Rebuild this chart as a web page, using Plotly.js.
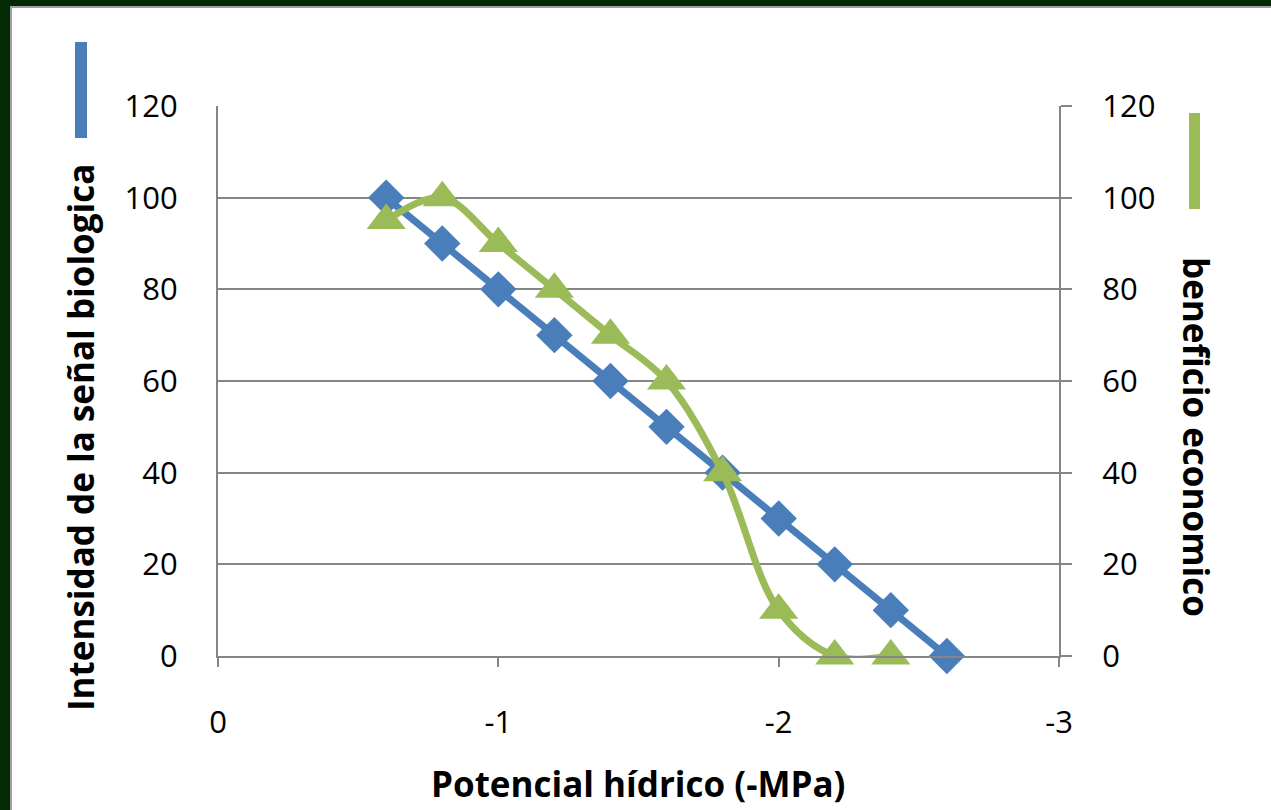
<!DOCTYPE html>
<html><head><meta charset="utf-8">
<script src="https://cdn.plot.ly/plotly-3.0.1.min.js"></script>
<style>html,body{margin:0;padding:0;background:#fff;}#chart{width:1271px;height:810px;}</style>
</head><body><div id="chart"></div>
<script>
const xBlue = [-0.6, -0.8, -1.0, -1.2, -1.4, -1.6, -1.8, -2.0, -2.2, -2.4, -2.6];
const yBlue = [100, 90, 80, 70, 60, 50, 40, 30, 20, 10, 0];
const xGreen = [-0.6, -0.8, -1.0, -1.2, -1.4, -1.6, -1.8, -2.0, -2.2, -2.4];
const yGreen = [95, 100, 90, 80, 70, 60, 40, 10, 0, 0];
const xTicks = [0, -1, -2, -3];
const xTickText = ['0', '-1', '-2', '-3'];
const yTicks = [0, 20, 40, 60, 80, 100, 120];

const blue = '#4A7EBB', green = '#9BBB59', grid = '#868686';
const L = 218, R = 1059, T = 106, B = 656, W = R - L, H = B - T;
const px = v => (v - L) / W;
const py = v => (B - v) / H;
const FONT = '"Open Sans", "Liberation Sans", sans-serif';

const traces = [
  {x: xBlue, y: yBlue, type: 'scatter', mode: 'lines+markers', yaxis: 'y',
   line: {color: blue, width: 7}, marker: {symbol: 'diamond', size: 28, color: blue}, cliponaxis: false},
  {x: xGreen, y: yGreen, type: 'scatter', mode: 'lines+markers', yaxis: 'y2',
   line: {color: green, width: 7, shape: 'spline', smoothing: 1}, marker: {symbol: 'triangle-up', size: 34, color: green}, cliponaxis: false}
];

const layout = {
  width: 1271, height: 810,
  margin: {l: L, r: 1271 - R, t: T, b: 810 - B},
  paper_bgcolor: '#fff', plot_bgcolor: '#fff',
  showlegend: false,
  font: {family: FONT, color: '#000', size: 31},
  xaxis: {range: [0, -3], tickvals: xTicks, ticktext: xTickText, showgrid: false, zeroline: false,
    showline: true, linecolor: grid, linewidth: 2, ticks: 'outside', ticklen: 9, tickwidth: 2, tickcolor: grid,
    ticklabelstandoff: 29, tickfont: {size: 31, family: FONT}},
  yaxis: {range: [0, 120], tickvals: yTicks, showgrid: true, gridcolor: grid, gridwidth: 2, zeroline: false,
    showline: true, linecolor: grid, linewidth: 2, ticks: '', ticklabelstandoff: 32, tickfont: {size: 31, family: FONT}},
  yaxis2: {range: [0, 120], tickvals: yTicks, overlaying: 'y', side: 'right', showgrid: false, zeroline: false,
    showline: true, linecolor: grid, linewidth: 2, ticks: 'outside', ticklen: 11, tickwidth: 2, tickcolor: grid,
    ticklabelstandoff: 24, tickfont: {size: 31, family: FONT}},
  shapes: [
    {type: 'rect', xref: 'paper', yref: 'paper', x0: px(0), x1: px(10), y0: py(810), y1: py(0), fillcolor: '#032a05', line: {width: 0}, layer: 'above'},
    {type: 'rect', xref: 'paper', yref: 'paper', x0: px(0), x1: px(1271), y0: py(6), y1: py(0), fillcolor: '#032a05', line: {width: 0}, layer: 'above'},
    {type: 'line', xref: 'paper', yref: 'paper', x0: px(11), x1: px(11), y0: py(810), y1: py(6), line: {color: '#a0a0a0', width: 2}},
    {type: 'line', xref: 'paper', yref: 'paper', x0: px(11), x1: px(1271), y0: py(7), y1: py(7), line: {color: '#a0a0a0', width: 2}},
    {type: 'rect', xref: 'paper', yref: 'paper', x0: px(75), x1: px(87), y0: py(138), y1: py(42), fillcolor: blue, line: {width: 0}},
    {type: 'rect', xref: 'paper', yref: 'paper', x0: px(1189), x1: px(1200), y0: py(209), y1: py(113), fillcolor: green, line: {width: 0}}
  ],
  annotations: [
    {text: '<b>Potencial hídrico (-MPa)</b>', xref: 'paper', yref: 'paper', x: px(638), y: py(783),
     xanchor: 'center', yanchor: 'middle', showarrow: false, font: {size: 35, family: FONT}},
    {text: '<b>Intensidad de la señal biologica</b>', xref: 'paper', yref: 'paper', x: px(80), y: py(438),
     xanchor: 'center', yanchor: 'middle', textangle: -90, showarrow: false, font: {size: 35, family: FONT}},
    {text: '<b>beneficio economico</b>', xref: 'paper', yref: 'paper', x: px(1197), y: py(437),
     xanchor: 'center', yanchor: 'middle', textangle: 90, showarrow: false, font: {size: 35, family: FONT}}
  ]
};
Plotly.newPlot('chart', traces, layout, {displayModeBar: false, staticPlot: true});
</script></body></html>
